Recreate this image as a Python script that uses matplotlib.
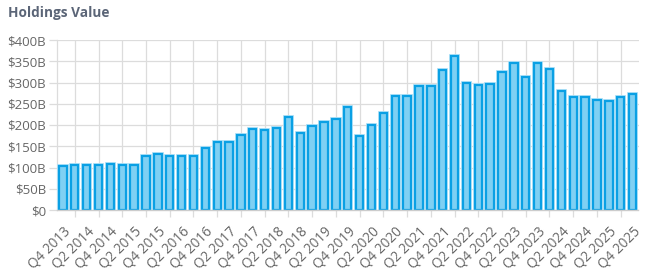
import matplotlib
matplotlib.use("Agg")
import matplotlib.pyplot as plt
import numpy as np

quarters = []
for y in range(2013, 2026):
    for q in range(1, 5):
        if (y == 2013 and q < 4):
            continue
        quarters.append(f"Q{q} {y}")

values = [103, 105, 107, 107, 108, 106, 106, 127, 131, 127, 128, 128, 147, 161, 161,
          176, 190, 188, 194, 220, 182, 198, 206, 214, 242, 174, 201, 228, 269, 269,
          292, 292, 330, 362, 299, 295, 297, 325, 347, 312, 347, 331, 279, 265, 266,
          258, 257, 266, 272]

yticks = [0, 50, 100, 150, 200, 250, 300, 350, 400]
ytick_labels = ["$0", "$50B", "$100B", "$150B", "$200B", "$250B", "$300B", "$350B", "$400B"]

plt.rcParams['font.family'] = ['Open Sans', 'DejaVu Sans']

fig = plt.figure(figsize=(6.46, 2.72), dpi=100)
ax = fig.add_axes([57/646, 1-210/272, (638.5-57)/646, 170/272])

x = np.arange(len(values))
ax.bar(x, values, width=0.62, color='#7fd0f3', edgecolor='#b3e3f8', linewidth=2.8, zorder=3)
ax.bar(x, values, width=0.62, color='#7fd0f3', edgecolor='#0aa0e4', linewidth=1.6, zorder=4)

ax.set_xlim(-0.5, len(values) - 0.5)
ax.set_ylim(0, 400)
ax.set_yticks(yticks)
ax.set_yticklabels(ytick_labels)

ax.set_xticks(x[::2])
ax.set_xticklabels([quarters[i] for i in x[::2]], rotation=45, ha='right',
                   rotation_mode='anchor')
ax.set_xticks(x[1::2], minor=True)

grid_c = '#dcdcdc'
ax.grid(axis='y', color=grid_c, lw=0.9, zorder=0)
ax.grid(axis='x', which='minor', color=grid_c, lw=0.9, zorder=0)
ax.grid(axis='x', which='major', visible=False)

ax.tick_params(axis='x', which='major', length=0, pad=10, labelsize=9.8, labelcolor='#666666')
ax.tick_params(axis='x', which='minor', length=5, color=grid_c, width=0.9)
ax.tick_params(axis='y', length=6, color=grid_c, width=0.9, pad=2, labelsize=9.5, labelcolor='#666666')

for s in ['top', 'right']:
    ax.spines[s].set_visible(False)
ax.spines['left'].set_color(grid_c)
ax.spines['left'].set_linewidth(0.9)
ax.spines['bottom'].set_color('#cccccc')
ax.spines['bottom'].set_linewidth(1.0)
ax.spines['bottom'].set_zorder(5)

fig.text(8/646, 1-13/272, "Holdings Value", fontsize=9.8, fontweight='bold',
         color='#5b6577', va='center', ha='left')

fig.savefig("out.png", dpi=100)
